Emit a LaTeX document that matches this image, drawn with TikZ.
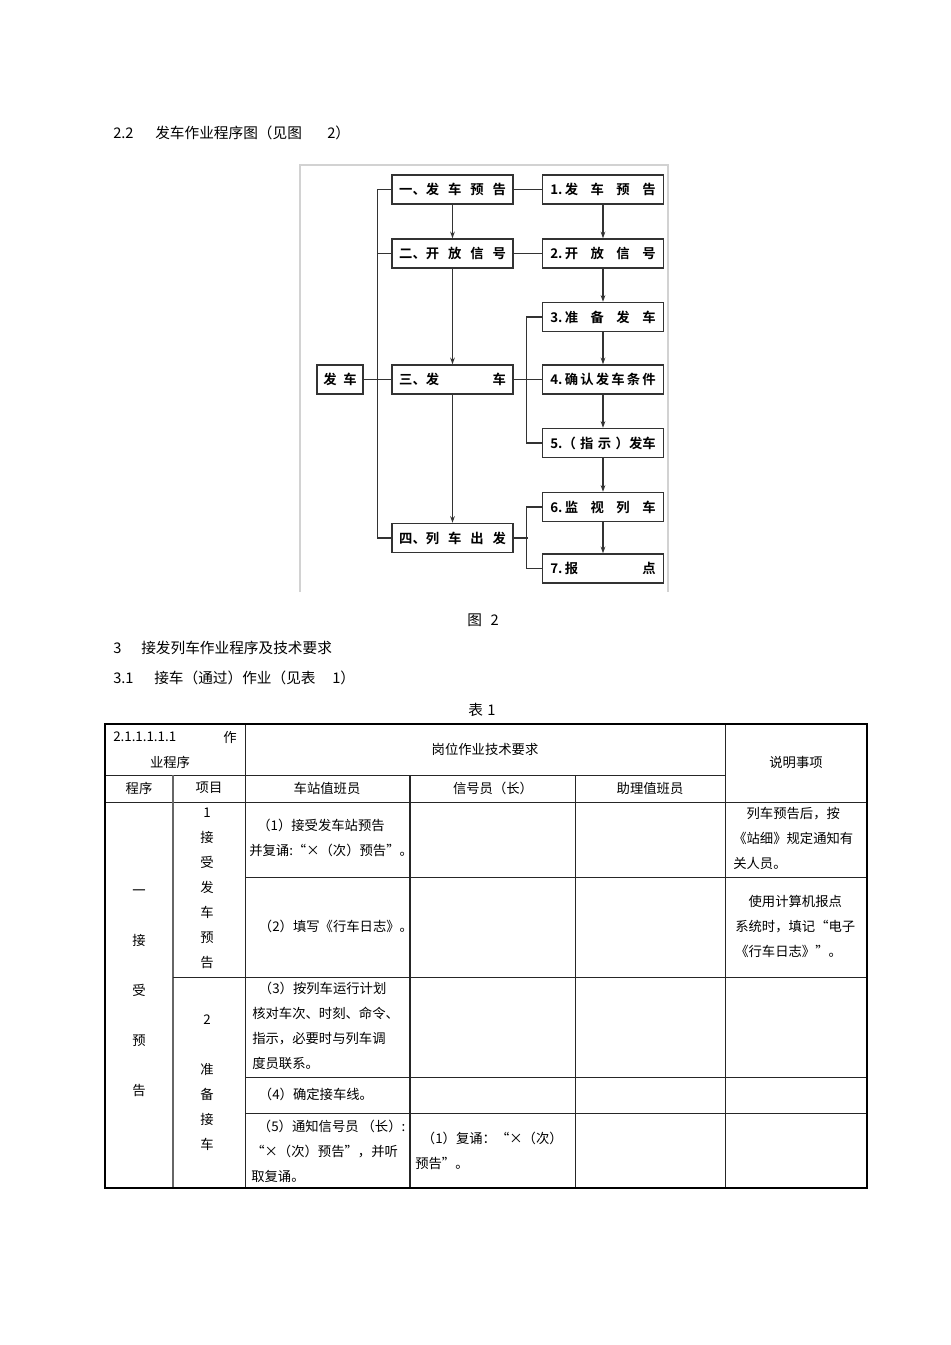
\documentclass[tikz,border=0pt]{standalone}
\usepackage{fontspec}
\setmainfont{Noto Sans CJK SC}[BoldFont={Noto Sans CJK SC Bold}]
\usetikzlibrary{arrows.meta}
\begin{document}
\begin{tikzpicture}[x=0.75pt,y=-0.75pt,
  box/.style={draw=black!80, line width=1.1pt, minimum width=90.75pt, minimum height=21.75pt, inner sep=0pt, font=\fontsize{10}{12}\selectfont\bfseries},
  conn/.style={draw=black!80, line width=0.9pt},
  arr/.style={conn, -{Stealth[length=5pt,width=3.5pt]}},
  txt/.style={inner sep=0pt, font=\fontsize{10}{18.75}\selectfont, align=left, anchor=west},
  ctxt/.style={inner sep=0pt, font=\fontsize{10}{18.75}\selectfont, align=center, anchor=center},
  head/.style={inner sep=0pt, anchor=west, font=\fontsize{11}{13}\selectfont},
  grid/.style={line width=0.6pt, draw=black!85},
  heavy/.style={line width=1.5pt, draw=black}]
\useasboundingbox[fill=white] (0,0) rectangle (950,1345);

% headings
\node[head] (h1a) at (113,133) {2.2};
\node[head] (h1b) at (155,133) {发车作业程序图（见图};
\node[head] (h1c) at (327,133) {2）};

% frame
\draw[gray!35, line width=1pt] (300,592) -- (300,165) -- (668,165) -- (668,592);

% boxes
\node[box] (a1) at (452.5,189.5) {\makebox[80pt][s]{一、发\hfill 车\hfill 预\hfill 告}};
\node[box] (a2) at (452.5,253.5) {\makebox[80pt][s]{二、开\hfill 放\hfill 信\hfill 号}};
\node[box] (a3) at (452.5,379.5) {\makebox[80pt][s]{三、发\hfill 车}};
\node[box] (a4) at (452.5,538) {\makebox[80pt][s]{四、列\hfill 车\hfill 出\hfill 发}};
\node[box] (b1) at (603,189.5) {\makebox[79pt][s]{1.\,发\hfill 车\hfill 预\hfill 告}};
\node[box] (b2) at (603,253.5) {\makebox[79pt][s]{2.\,开\hfill 放\hfill 信\hfill 号}};
\node[box] (b3) at (603,317) {\makebox[79pt][s]{3.\,准\hfill 备\hfill 发\hfill 车}};
\node[box] (b4) at (603,379.5) {\makebox[79pt][s]{4.\,确\hfill 认\hfill 发\hfill 车\hfill 条\hfill 件}};
\node[box] (b5) at (603,443) {\makebox[79pt][s]{5.（\hfill 指\hfill 示\hfill ）发车}};
\node[box] (b6) at (603,507) {\makebox[79pt][s]{6.\,监\hfill 视\hfill 列\hfill 车}};
\node[box] (b7) at (603,568.5) {\makebox[79pt][s]{7.\,报\hfill 点}};
\node[box, minimum width=34.5pt] (s) at (340,379.5) {\makebox[25pt][s]{发\hfill 车}};

% connectors
\draw[conn] (a1.west) -- ++(-14,0) |- (a4.west);
\draw[conn] (a2.west) -- ++(-14,0);
\draw[conn] (s) -- (a3);
\draw[conn] (a1) -- (b1);
\draw[conn] (a2) -- (b2);
\draw[conn] (a3) -- (b4);
\draw[conn] (b3.west) -- ++(-15,0) |- (b5.west);
\draw[conn] (b6.west) -- ++(-15,0) |- (b7.west);
\draw[conn] (a4.east) -- ++(14,0);
\draw[arr] (a1) -- (a2);
\draw[arr] (a2) -- (a3);
\draw[arr] (a3) -- (a4);
\draw[arr] (b1) -- (b2);
\draw[arr] (b2) -- (b3);
\draw[arr] (b3) -- (b4);
\draw[arr] (b4) -- (b5);
\draw[arr] (b5) -- (b6);
\draw[arr] (b6) -- (b7);

% captions
\node[head] (c1) at (467,620) {图\hspace{0.6em}2};
\node[head] (c2a) at (113,648) {3};
\node[head] (c2b) at (141,648) {接发列车作业程序及技术要求};
\node[head] (c3a) at (113,678) {3.1};
\node[head] (c3b) at (154,678) {接车（通过）作业（见表};
\node[head] (c3c) at (332,678) {1）};
\node[head] (c4) at (468,710) {表\hspace{0.3em}1};

% table grid
\draw[grid] (245,724) -- (245,1188);
\draw[grid] (725,724) -- (725,1188);
\draw[grid] (105,775) -- (725,775);
\draw[grid] (105,802) -- (867,802);
\draw[grid, line width=0.9pt, draw=black!60] (173,775) -- (173,1188);
\draw[grid, line width=1.2pt] (410,775) -- (410,1188);
\draw[grid] (575,775) -- (575,1188);
\draw[grid] (245,877) -- (867,877);
\draw[grid] (173,977) -- (867,977);
\draw[grid] (245,1077) -- (867,1077);
\draw[grid] (245,1113) -- (867,1113);
\draw[heavy] (105,724) rectangle (867,1188);

% table header
\node[txt] (t01) at (113,737) {2.1.1.1.1.1};
\node[txt] (t02) at (223,737) {作};
\node[ctxt] (t03) at (170,762) {业程序};
\node[ctxt] (t04) at (485,749) {岗位作业技术要求};
\node[ctxt] (t05) at (796,762) {说明事项};
\node[ctxt] (t06) at (139,788) {程序};
\node[ctxt] (t07) at (209,788) {项目};
\node[ctxt] (t08) at (327,788) {车站值班员};
\node[ctxt] (t09) at (493,788) {信号员（长）};
\node[ctxt] (t10) at (650,788) {助理值班员};

% table body
\node[ctxt] (t11) at (139,993.5) {一\\[18.75pt]接\\[18.75pt]受\\[18.75pt]预\\[18.75pt]告};
\node[ctxt] (t12) at (207,888.5) {1\\接\\受\\发\\车\\预\\告};
\node[ctxt] (t13) at (207,1083) {2\\ \\准\\备\\接\\车};
\node[txt] (t14) at (249,838) {\hspace*{0.6em}（1）接受发车站预告\\并复诵:“×（次）预告”。};
\node[txt] (t15) at (252,926) {\hspace*{0.5em}（2）填写《行车日志》。};
\node[txt] (t16) at (252,1025.5) {\hspace*{0.5em}（3）按列车运行计划\\核对车次、时刻、命令、\\指示，必要时与列车调\\度员联系。};
\node[txt] (t17) at (252,1094) {\hspace*{0.5em}（4）确定接车线。};
\node[txt] (t18) at (251,1151) {\hspace*{0.5em}（5）通知信号员 （长）:\\“×（次）预告”，并听\\取复诵。};
\node[txt] (t19) at (415,1150.5) {\hspace*{0.5em}（1）复诵：“×（次）\\预告”。};
\node[txt] (t20) at (733,838) {\hspace*{1em}列车预告后，按\\《站细》规定通知有\\关人员。};
\node[txt] (t21) at (735,926) {\hspace*{1em}使用计算机报点\\系统时，填记“电子\\《行车日志》”。};
\end{tikzpicture}
\end{document}
